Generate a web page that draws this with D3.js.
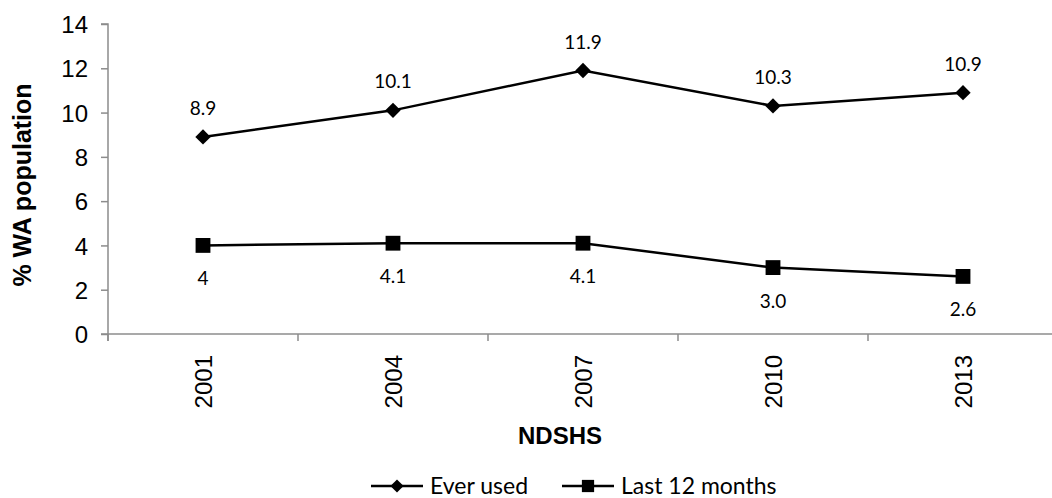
<!DOCTYPE html>
<html>
<head>
<meta charset="utf-8">
<script src="https://cdn.jsdelivr.net/npm/d3@7"></script>
<style>
  body { margin: 0; background: #fff; }
  svg { display: block; }
</style>
</head>
<body>
<div id="chart"></div>
<script>
var years = ["2001", "2004", "2007", "2010", "2013"];
var everUsed = [8.9, 10.1, 11.9, 10.3, 10.9];
var everUsedLabels = ["8.9", "10.1", "11.9", "10.3", "10.9"];
var last12 = [4, 4.1, 4.1, 3.0, 2.6];
var last12Labels = ["4", "4.1", "4.1", "3.0", "2.6"];
var yTicks = [0, 2, 4, 6, 8, 10, 12, 14];

var width = 1052,
    height = 498,
    plotLeft = 108,
    plotTop = 24,
    plotBottom = 334;

var svg = d3.select("#chart")
    .append("svg")
    .attr("width", width)
    .attr("height", height);

var x = d3.scaleBand()
    .domain(years)
    .range([plotLeft, plotLeft + 950]);

var y = d3.scaleLinear()
    .domain([0, 14])
    .range([plotBottom, plotTop]);

var axisColor = "#8c8c8c";
var arial = "Arial, 'Liberation Sans', sans-serif";
var calib = "Lato, 'Open Sans', sans-serif";

// y axis
var yAxis = svg.append("g")
    .attr("transform", "translate(" + plotLeft + ",0)")
    .call(d3.axisLeft(y).tickValues(yTicks).tickSize(7).tickPadding(13));
yAxis.select(".domain").attr("stroke", axisColor).attr("stroke-width", 1.5)
    .attr("d", "M-7," + plotTop + "H0V" + (plotBottom + 7));
yAxis.selectAll(".tick line").attr("stroke", axisColor).attr("stroke-width", 1.5);
yAxis.selectAll("text")
    .attr("fill", "#000")
    .attr("dy", "0.36em")
    .style("font-family", arial)
    .style("font-size", "24px");

// x axis (ticks on band edges)
var xg = svg.append("g");
xg.append("line")
    .attr("x1", plotLeft - 7).attr("x2", width)
    .attr("y1", plotBottom).attr("y2", plotBottom)
    .attr("stroke", axisColor).attr("stroke-width", 1.5);
var edges = years.map(function(d) { return x(d); });
edges.push(x(years[years.length - 1]) + x.bandwidth());
xg.selectAll("line.tick")
    .data(edges).enter()
    .append("line")
    .attr("class", "tick")
    .attr("x1", function(d) { return d; })
    .attr("x2", function(d) { return d; })
    .attr("y1", plotBottom)
    .attr("y2", plotBottom + 7)
    .attr("stroke", axisColor).attr("stroke-width", 1.5);
xg.selectAll("text")
    .data(years).enter()
    .append("text")
    .attr("transform", function(d) {
        return "translate(" + (x(d) + x.bandwidth() / 2 + 8.5) + "," + (plotBottom + 21) + ") rotate(-90)";
    })
    .attr("text-anchor", "end")
    .style("font-family", arial)
    .style("font-size", "24px")
    .text(function(d) { return d; });

// axis titles
svg.append("text")
    .attr("x", 560)
    .attr("y", 444)
    .attr("text-anchor", "middle")
    .style("font-family", arial)
    .style("font-size", "24px")
    .style("font-weight", "bold")
    .text("NDSHS");

svg.append("text")
    .attr("transform", "translate(31,185) rotate(-90)")
    .attr("text-anchor", "middle")
    .style("font-family", arial)
    .style("font-size", "25px")
    .style("font-weight", "bold")
    .text("% WA population");

var cx = function(d, i) { return x(years[i]) + x.bandwidth() / 2; };
var line = d3.line()
    .x(function(d, i) { return cx(d, i); })
    .y(function(d) { return y(d); });

var diamond = d3.symbol().type(d3.symbolDiamond2).size(150);
var square = d3.symbol().type(d3.symbolSquare).size(220);

var series = [
    { name: "Ever used", values: everUsed, labels: everUsedLabels, sym: diamond, dy: -22 },
    { name: "Last 12 months", values: last12, labels: last12Labels, sym: square, dy: 40 }
];

series.forEach(function(s) {
    var g = svg.append("g");
    g.append("path")
        .datum(s.values)
        .attr("d", line)
        .attr("fill", "none")
        .attr("stroke", "#000")
        .attr("stroke-width", 2.5);
    g.selectAll("path.pt")
        .data(s.values).enter()
        .append("path")
        .attr("class", "pt")
        .attr("d", s.sym)
        .attr("transform", function(d, i) { return "translate(" + cx(d, i) + "," + y(d) + ")"; })
        .attr("fill", "#000");
    g.selectAll("text")
        .data(s.values).enter()
        .append("text")
        .attr("x", function(d, i) { return cx(d, i); })
        .attr("y", function(d) { return y(d) + s.dy; })
        .attr("text-anchor", "middle")
        .style("font-family", calib)
        .style("font-size", "19px")
        .text(function(d, i) { return s.labels[i]; });
});

// legend
var legendItems = [
    { name: "Ever used", sym: d3.symbol().type(d3.symbolDiamond2).size(110), x: 371 },
    { name: "Last 12 months", sym: d3.symbol().type(d3.symbolSquare).size(150), x: 562 }
];
var lg = svg.append("g").attr("transform", "translate(0,486)");
legendItems.forEach(function(d) {
    lg.append("line")
        .attr("x1", d.x).attr("x2", d.x + 52)
        .attr("y1", 0).attr("y2", 0)
        .attr("stroke", "#000").attr("stroke-width", 2.5);
    lg.append("path")
        .attr("d", d.sym)
        .attr("transform", "translate(" + (d.x + 26) + ",0)")
        .attr("fill", "#000");
    lg.append("text")
        .attr("x", d.x + 59)
        .attr("y", 8)
        .style("font-family", calib)
        .style("font-size", "23px")
        .text(d.name);
});
</script>
</body>
</html>
